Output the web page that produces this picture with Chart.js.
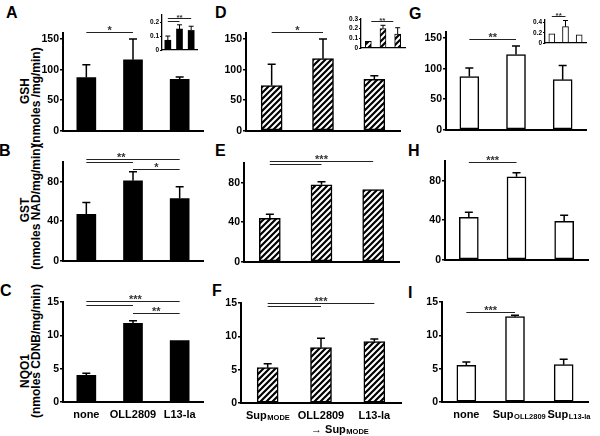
<!DOCTYPE html>
<html>
<head>
<meta charset="utf-8">
<script src="https://cdn.jsdelivr.net/npm/chart.js@4.4.1/dist/chart.umd.min.js"></script>
<style>
  body { margin: 0; width: 600px; height: 436px; position: relative; overflow: hidden; background: #fff;
         font-family: "Liberation Sans", Arial, sans-serif; font-weight: bold; color: #000; }
  canvas { position: absolute; }
  .letter { position: absolute; font-size: 16px; line-height: 16px; }
  .ytitle { position: absolute; font-size: 12px; line-height: 12px; white-space: nowrap;
            transform: translate(-50%, -50%) rotate(-90deg); }
</style>
</head>
<body>
<div class="letter" style="left:6px;top:5px">A</div>
<div class="letter" style="left:-1px;top:143px">B</div>
<div class="letter" style="left:0px;top:283px">C</div>
<div class="letter" style="left:215px;top:5px">D</div>
<div class="letter" style="left:215px;top:143px">E</div>
<div class="letter" style="left:212px;top:283px">F</div>
<div class="letter" style="left:409px;top:6px">G</div>
<div class="letter" style="left:408px;top:143px">H</div>
<div class="letter" style="left:408px;top:285px">I</div>

<div class="ytitle" style="left:25px;top:91px">GSH</div>
<div class="ytitle" style="left:36px;top:97px">(nmoles /mg/min)</div>
<div class="ytitle" style="left:25px;top:210px">GST</div>
<div class="ytitle" style="left:36px;top:207px">(nmoles NAD/mg/min)</div>
<div class="ytitle" style="left:25px;top:371px">NQO1</div>
<div class="ytitle" style="left:36px;top:351px">(nmoles CDNB/mg/min)</div>

<script>
// ---- Data ----
const groups = ['none', 'OLL2809', 'L13-la'];

// GSH (nmoles/mg/min): bacteria, supernatants, cells
const gshBact   = [87, 116, 84];
const gshBactSd = [21, 34, 4];
const gshSup    = [74, 118, 84];
const gshSupSd  = [35, 32, 6];
const gshCell   = [87, 123, 82];
const gshCellSd = [14, 14, 23];

// GSH insets
const gshBactIn   = [0.07, 0.15, 0.14];
const gshBactInSd = [0.03, 0.03, 0.03];
const gshSupIn    = [0.07, 0.2, 0.145];
const gshSupInSd  = [0, 0.035, 0.065];
const gshCellIn   = [0.18, 0.32, 0.16];
const gshCellInSd = [0, 0.12, 0];

// GST (nmoles NAD/mg/min)
const gstBact   = [47, 81, 63];
const gstBactSd = [12, 9, 12];
const gstSup    = [44, 78, 73];
const gstSupSd  = [4, 3, 0];
const gstCell   = [43, 84, 39];
const gstCellSd = [5, 4, 6];

// NQO1 (nmoles CDNB/mg/min)
const nqoBact   = [4.0, 11.8, 9.2];
const nqoBactSd = [0.3, 0.4, 0];
const nqoSup    = [5.3, 8.3, 9.2];
const nqoSupSd  = [0.6, 1.4, 0.4];
const nqoCell   = [5.5, 12.8, 5.6];
const nqoCellSd = [0.5, 0.2, 0.8];

// tick labels
const gshTicks = [0, 50, 100, 150];
const gstTicks = [0, 40, 80];
const nqoTicks = [0, 5, 10, 15];
const inBactTicks = [0, 0.1, 0.2];
const inSupTicks  = [0, 0.1, 0.2, 0.3];
const inCellTicks = [0, 0.2, 0.4];

// category labels of the bottom row  [main, subscript]
const labelsBact = [['none'], ['OLL2809'], ['L13-la']];
const labelsSup  = [['Sup', 'MODE'], ['OLL2809'], ['L13-la']];
const labelsCell = [['none'], ['Sup', 'OLL2809'], ['Sup', 'L13-la']];

const FONT = '"Liberation Sans", Arial, sans-serif';
Chart.defaults.font.family = FONT;
Chart.defaults.font.weight = 'bold';
Chart.defaults.color = '#000';

// ---- Hatch pattern ----
function hatch(s, lw) {
  const c = document.createElement('canvas');
  c.width = c.height = s;
  const g = c.getContext('2d');
  g.fillStyle = '#fff';
  g.fillRect(0, 0, s, s);
  g.strokeStyle = '#000';
  g.lineWidth = lw;
  g.beginPath();
  g.moveTo(-1, 1); g.lineTo(1, -1);
  g.moveTo(-1, s + 1); g.lineTo(s + 1, -1);
  g.moveTo(s - 1, s + 1); g.lineTo(s + 1, s - 1);
  g.stroke();
  return g.createPattern(c, 'repeat');
}
const stripes = hatch(6, 2.2);

// ---- Plugins ----
const errorBars = {
  id: 'errorBars',
  afterDatasetsDraw(chart, args, opts) {
    const ds = chart.data.datasets[0];
    if (!ds.sd) return;
    const y = chart.scales.y, ctx = chart.ctx;
    const cap = opts.cap || 4;
    ctx.save();
    ctx.strokeStyle = '#000';
    ctx.lineWidth = opts.width || 1.5;
    chart.getDatasetMeta(0).data.forEach((bar, i) => {
      if (!ds.sd[i]) return;
      const top = y.getPixelForValue(ds.data[i] + ds.sd[i]);
      ctx.beginPath();
      ctx.moveTo(bar.x, bar.y);
      ctx.lineTo(bar.x, top);
      ctx.moveTo(bar.x - cap, top);
      ctx.lineTo(bar.x + cap, top);
      ctx.stroke();
    });
    ctx.restore();
  }
};

const sigLines = {
  id: 'sigLines',
  afterDraw(chart, args, opts) {
    if (!opts.lines) return;
    const { x, y } = chart.scales, ctx = chart.ctx;
    ctx.save();
    ctx.strokeStyle = '#222';
    ctx.fillStyle = '#333';
    ctx.lineWidth = 1;
    ctx.font = `bold ${opts.size || 10}px ${FONT}`;
    ctx.textAlign = 'center';
    ctx.textBaseline = 'alphabetic';
    opts.lines.forEach(l => {
      const x1 = x.getPixelForValue(l.from), x2 = x.getPixelForValue(l.to);
      const py = Math.round(y.getPixelForValue(l.at)) + 0.5;
      ctx.beginPath();
      ctx.moveTo(x1, py);
      ctx.lineTo(x2, py);
      ctx.stroke();
      if (l.mark) {
        const mx = l.markAt !== undefined ? x.getPixelForValue(l.markAt) : (x1 + x2) / 2;
        ctx.fillText(l.mark, mx, py + 1);
      }
    });
    ctx.restore();
  }
};

const catLabels = {
  id: 'catLabels',
  afterDraw(chart, args, opts) {
    if (!opts.items) return;
    const x = chart.scales.x, ctx = chart.ctx;
    const base = chart.chartArea.bottom + 16;
    const big = `bold 11px ${FONT}`, small = `bold 7.5px ${FONT}`;
    const put = (parts, cx, by) => {
      ctx.font = big;
      const w1 = ctx.measureText(parts[0]).width;
      ctx.font = small;
      const w2 = parts[1] ? ctx.measureText(parts[1]).width : 0;
      const left = cx - (w1 + w2) / 2;
      ctx.font = big;
      ctx.fillText(parts[0], left, by);
      if (parts[1]) {
        ctx.font = small;
        ctx.fillText(parts[1], left + w1 + 0.5, by + 0.5);
      }
    };
    ctx.save();
    ctx.fillStyle = '#000';
    ctx.textAlign = 'left';
    ctx.textBaseline = 'alphabetic';
    opts.items.forEach((parts, i) => put(parts, x.getPixelForValue(i) + (opts.shift ? opts.shift[i] : 0), base));
    if (opts.extra) put(opts.extra.parts, x.getPixelForValue(opts.extra.at), base + 14);
    ctx.restore();
  }
};

Chart.register(errorBars, sigLines, catLabels);

// ---- Panel builder ----
function panel(o) {
  const inset = !!o.inset;
  const L = inset ? 16 : 42, T = inset ? 14 : 26, R = inset ? 3 : 8, B = o.B || (inset ? 3 : 6);
  const [left, right, top, bottom] = o.box;
  const cv = document.createElement('canvas');
  cv.width = right - left + L + R;
  cv.height = bottom - top + T + B;
  cv.style.left = (left - L) + 'px';
  cv.style.top = (top - T) + 'px';
  document.body.appendChild(cv);

  const axisW = inset ? 1.3 : 2;
  let fill = '#000', bw = 0;
  if (o.style === 'hatch') { fill = stripes; bw = inset ? 1 : 1.5; }
  if (o.style === 'open') { fill = '#fff'; bw = inset ? 1 : 1.5; }

  new Chart(cv, {
    type: 'bar',
    data: {
      labels: groups,
      datasets: [{
        data: o.values, sd: o.sd,
        backgroundColor: fill, borderColor: '#000', borderWidth: bw, borderSkipped: false,
        barThickness: o.bar
      }]
    },
    options: {
      responsive: false, animation: false,
      layout: { padding: { top: T, right: R, left: 0, bottom: 0 } },
      plugins: {
        legend: { display: false }, tooltip: { enabled: false },
        errorBars: { cap: inset ? 2.5 : 4, width: inset ? 1 : 1.5 },
        sigLines: { lines: o.sig, size: inset ? 8 : 11 },
        catLabels: { items: o.labels, extra: o.extra, shift: o.shift }
      },
      scales: {
        x: {
          grid: { display: false },
          border: { color: '#000', width: axisW },
          ticks: { display: false },
          afterFit: s => { s.height = B; }
        },
        y: {
          min: 0, max: o.max,
          grid: { display: true, drawOnChartArea: false, drawTicks: true, tickLength: inset ? 2 : 3, color: '#000', lineWidth: inset ? 1 : 1.5 },
          border: { color: '#000', width: axisW },
          ticks: { color: '#000', padding: 1, autoSkip: false, font: { size: inset ? 6.5 : 10.5, weight: 'bold' } },
          afterBuildTicks: s => { s.ticks = o.ticks.map(v => ({ value: v })); },
          afterFit: s => { s.width = L; }
        }
      }
    }
  });
}

// ---- Row 1: GSH ----
panel({ box: [63, 203, 33, 132], values: gshBact, sd: gshBactSd, max: 160, ticks: gshTicks, bar: 19, style: 'solid',
        sig: [{ from: 0, to: 1, at: 161, mark: '*' }] });
panel({ box: [246, 400, 33, 132], values: gshSup, sd: gshSupSd, max: 160, ticks: gshTicks, bar: 21, style: 'hatch',
        sig: [{ from: 0, to: 1, at: 161, mark: '*' }] });
panel({ box: [446, 586, 32, 131], values: gshCell, sd: gshCellSd, max: 160, ticks: gshTicks, bar: 19, style: 'open',
        sig: [{ from: 0, to: 1, at: 148, mark: '**' }] });

// insets
panel({ inset: true, box: [162, 197, 15, 52], values: gshBactIn, sd: gshBactInSd, max: 0.25, ticks: inBactTicks, bar: 6, style: 'solid',
        sig: [{ from: 0, to: 2, at: 0.227, mark: '**' }, { from: 0, to: 1, at: 0.207 }] });
panel({ inset: true, box: [361, 405, 19, 50], values: gshSupIn, sd: gshSupInSd, max: 0.3, ticks: inSupTicks, bar: 6, style: 'hatch',
        sig: [{ from: 0.2, to: 1.7, at: 0.28, mark: '**' }] });
panel({ inset: true, box: [545, 586, 20, 45], values: gshCellIn, sd: gshCellInSd, max: 0.45, ticks: inCellTicks, bar: 6, style: 'open',
        sig: [{ from: 0, to: 1, at: 0.52, mark: '**' }] });

// ---- Row 2: GST ----
panel({ box: [63, 203, 162, 262], values: gstBact, sd: gstBactSd, max: 100, ticks: gstTicks, bar: 19, style: 'solid',
        sig: [{ from: 0, to: 2, at: 103, mark: '**', markAt: 0.75 }, { from: 0, to: 1, at: 100 }, { from: 1, to: 2, at: 93, mark: '*' }] });
panel({ box: [244, 399, 163, 263], values: gstSup, sd: gstSupSd, max: 100, ticks: gstTicks, bar: 21, style: 'hatch',
        sig: [{ from: 0, to: 2, at: 102, mark: '***' }, { from: 0, to: 1, at: 99 }] });
panel({ box: [445, 588, 161, 261], values: gstCell, sd: gstCellSd, max: 100, ticks: gstTicks, bar: 19, style: 'open',
        sig: [{ from: 0, to: 1, at: 99, mark: '***' }] });

// ---- Row 3: NQO1 ----
panel({ box: [63, 203, 302, 402], B: 36, values: nqoBact, sd: nqoBactSd, max: 15, ticks: nqoTicks, bar: 19, style: 'solid',
        labels: labelsBact,
        sig: [{ from: 0, to: 2, at: 15.15, mark: '***', markAt: 1.05 }, { from: 0, to: 1, at: 14.55 }, { from: 1, to: 2, at: 13.35, mark: '**' }] });
panel({ box: [241, 401, 303, 403], B: 36, values: nqoSup, sd: nqoSupSd, max: 15, ticks: nqoTicks, bar: 21, style: 'hatch',
        labels: labelsSup, extra: { at: 1.35, parts: ['\u2192 Sup', 'MODE'] },
        sig: [{ from: 0, to: 2, at: 15, mark: '***' }, { from: 0, to: 1, at: 14.55 }] });
panel({ box: [442, 588, 302, 402], B: 36, values: nqoCell, sd: nqoCellSd, max: 15, ticks: nqoTicks, bar: 19, style: 'open',
        labels: labelsCell, shift: [0, 4, 5],
        sig: [{ from: 0, to: 1, at: 13.5, mark: '***' }] });
</script>
</body>
</html>
